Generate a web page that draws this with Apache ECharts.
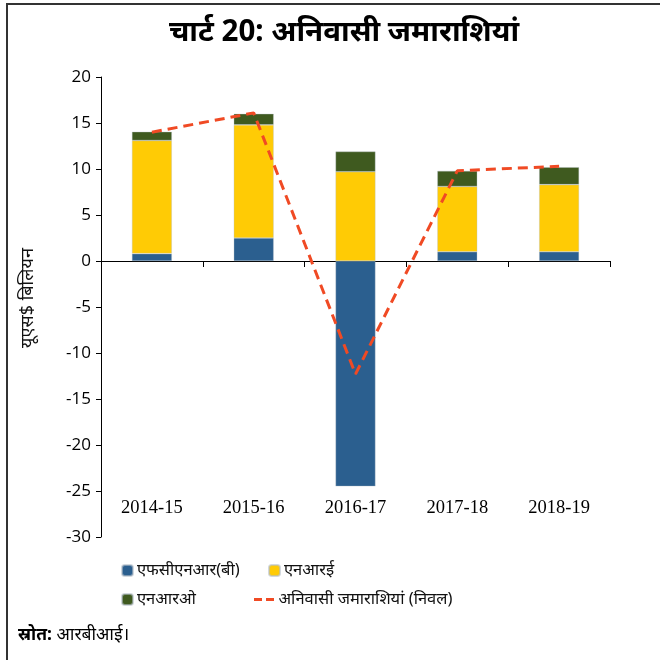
<!DOCTYPE html>
<html><head><meta charset="utf-8">
<script src="https://cdn.jsdelivr.net/npm/echarts@6/dist/echarts.min.js"></script>
<style>html,body{margin:0;padding:0;background:#fff;}#c{width:660px;height:660px;}</style>
</head><body><div id="c"></div>
<script>
const categories = ['2014-15','2015-16','2016-17','2017-18','2018-19'];
const fcnr = [0.8, 2.5, -24.5, 1.0, 1.0];
const nre = [12.3, 12.3, 9.7, 7.1, 7.3];
const nro = [0.95, 1.2, 2.2, 1.7, 1.9];
const netDeposits = [14.0, 16.1, -12.3, 9.8, 10.3];
const yTicks = {min: -30, max: 20, interval: 5};
const names = ['एफसीएनआर(बी)', 'एनआरई', 'एनआरओ', 'अनिवासी जमाराशियां (निवल)'];

const chart = echarts.init(document.getElementById('c'));
const font = "'Noto Sans','Noto Sans Devanagari','Liberation Sans',sans-serif";
const barStyle = c => ({color: c, borderColor: 'rgba(180,190,200,0.6)', borderWidth: 0.6});
function legend(name, left, top, icon) {
  const l = {data: [name], left: left, top: top, itemWidth: 11, itemHeight: 11, itemGap: 0,
    textStyle: {fontFamily: font, fontSize: 16.5, color: '#111', padding: [0,0,0,-1]}, padding: 0};
  if (icon) {
    l.data = [{name: name, icon: 'path://M0,0H8V3H0Z M12,0H20V3H12Z'}];
    l.itemWidth = 21; l.itemHeight = 3;
  }
  return l;
}
chart.setOption({
  animation: false,
  textStyle: {fontFamily: font},
  title: {text: 'चार्ट 20: अनिवासी जमाराशियां', left: 339, textAlign: 'center', top: 13,
    textStyle: {fontSize: 29.5, fontWeight: 'bold', color: '#000', fontFamily: font}},
  grid: {left: 101, right: 50, top: 77, bottom: 123},
  legend: [
    legend(names[0], 121, 562),
    legend(names[1], 268, 562),
    legend(names[2], 121, 591),
    legend(names[3], 254, 591, true)
  ],
  xAxis: [
    {type: 'category', data: categories, position: 'bottom',
      axisLine: {onZero: true, lineStyle: {color: '#000', width: 1}},
      axisTick: {show: true, inside: false, length: 6, lineStyle: {color: '#000'}},
      axisLabel: {show: false}},
    {type: 'category', data: categories, position: 'bottom', offset: -38,
      axisLine: {show: false, onZero: false}, axisTick: {show: false},
      axisLabel: {margin: 0, verticalAlign: 'top', fontFamily: "'Liberation Serif','Times New Roman',serif", fontSize: 18.5, color: '#000'}}
  ],
  yAxis: {type: 'value', min: yTicks.min, max: yTicks.max, interval: yTicks.interval,
    name: 'यूएस$ बिलियन', nameLocation: 'middle', nameGap: 64, nameRotate: 90,
    nameTextStyle: {fontFamily: font, fontSize: 18, color: '#111', padding: [0, 0, 0, 18]},
    axisLine: {show: true, lineStyle: {color: '#000'}},
    axisTick: {show: true, length: 5, lineStyle: {color: '#000'}},
    splitLine: {show: false},
    axisLabel: {fontSize: 17, color: '#000', margin: 10, fontFamily: "'Open Sans','Noto Sans',sans-serif"}},
  series: [
    {name: names[0], type: 'bar', stack: 's', data: fcnr, barWidth: 40, itemStyle: barStyle('#2B5F8F')},
    {name: names[1], type: 'bar', stack: 's', data: nre, barWidth: 40, itemStyle: barStyle('#FFCB05')},
    {name: names[2], type: 'bar', stack: 's', data: nro, barWidth: 40, itemStyle: barStyle('#3F5A1F')},
    {name: names[3], type: 'line', data: netDeposits, symbol: 'none', z: 5,
      lineStyle: {color: '#F04A24', width: 3, type: [10, 6]}, itemStyle: {color: '#F04A24'}}
  ],
  graphic: [
    {type: 'polyline', shape: {points: [[7, 700], [7, 4], [700, 4]]}, style: {stroke: '#333', lineWidth: 2, fill: null}},
    {type: 'text', left: 18, top: 626, style: {
      text: '{b|स्रोत:} आरबीआई।',
      rich: {b: {fontWeight: 'bold', fontSize: 17.5, fontFamily: font, fill: '#000'}},
      fontSize: 17.5, fontFamily: font, fill: '#000'}}
  ]
});
</script></body></html>
